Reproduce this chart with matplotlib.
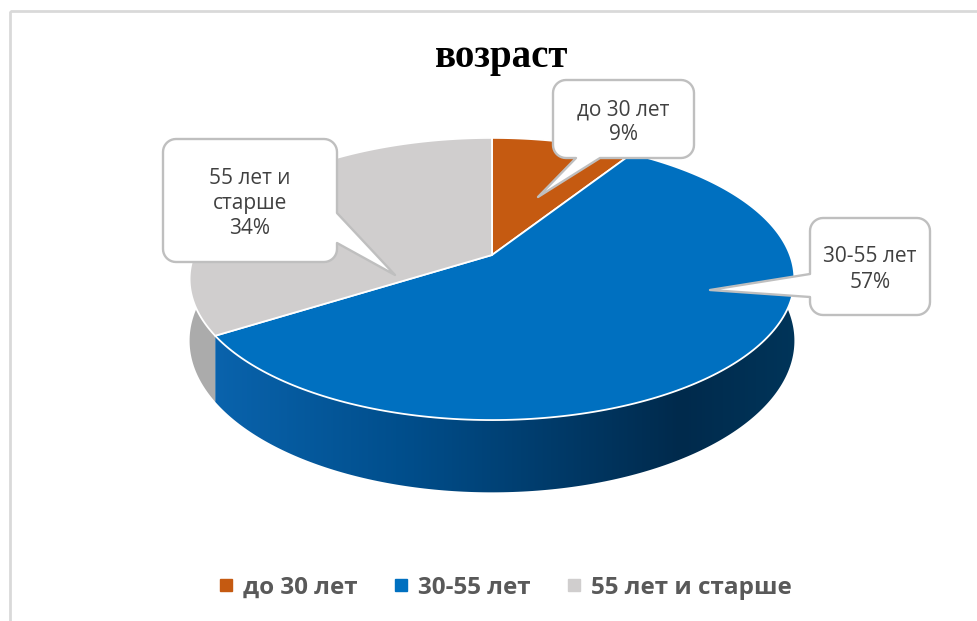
import textwrap
import numpy as np
import matplotlib
matplotlib.use("Agg")
import matplotlib.pyplot as plt
from matplotlib.patches import Polygon, Rectangle
from matplotlib.lines import Line2D
from matplotlib.colors import LinearSegmentedColormap

# данные
categories = ["до 30 лет", "30-55 лет", "55 лет и старше"]
values = [9, 57, 34]
colors = ["#C55A11", "#0070C0", "#D0CECE"]
title = "возраст"

# геометрия псевдо-3D диаграммы (в пикселях)
CX, CY = 492, 255
RX, RY = 298, 137
K = 0.17      # перспектива
H = 60        # толщина

def proj(theta, h=0.0):
    w = 1 + K * np.sin(theta)
    return CX + RX * np.cos(theta) / w, CY + (-RY * np.sin(theta) + h) / w

def arc(t0, t1, h=0.0, n=200):
    t = np.linspace(t0, t1, n)
    x, y = proj(t, h)
    return np.column_stack([x, y])

def callout(ax, box, r, side, b1, b2, tip):
    x0, y0, x1, y1 = box
    pts = [(x0 + r, y0), (x1 - r, y0)]
    def corner(cx, cy, a0, a1):
        for a in np.radians(np.linspace(a0, a1, 10)):
            pts.append((cx + r * np.cos(a), cy + r * np.sin(a)))
    corner(x1 - r, y0 + r, -90, 0)
    if side == "right":
        pts.extend([(x1, b1), tip, (x1, b2)])
    corner(x1 - r, y1 - r, 0, 90)
    if side == "bottom":
        pts.extend([(b2, y1), tip, (b1, y1)])
    corner(x0 + r, y1 - r, 90, 180)
    if side == "left":
        pts.extend([(x0, b2), tip, (x0, b1)])
    corner(x0 + r, y0 + r, 180, 270)
    ax.add_patch(Polygon(pts, closed=True, fc="white", ec="#bfbfbf",
                         lw=1.7, joinstyle="round", zorder=5))

fig = plt.figure(figsize=(9.78, 6.21), dpi=100)
ax = fig.add_axes([0, 0, 1, 1])
ax.set_xlim(0, 978)
ax.set_ylim(621, 0)
ax.axis("off")

ax.add_patch(Rectangle((10, 11), 1000, 700, fill=False, ec="#d9d9d9", lw=2))

# углы секторов: от 12 часов по часовой стрелке
frac = np.array(values) / sum(values)
bounds = np.pi / 2 - 2 * np.pi * np.concatenate([[0], np.cumsum(frac)])

# боковая стенка (видимая передняя часть)
vis0, vis1 = np.radians(-190), np.radians(10)
side_cmap = LinearSegmentedColormap.from_list(
    "side", [(0.0, "#0a64ae"), (0.35, "#004d8a"), (0.8, "#002a4c"), (1.0, "#00355a")])
for i in range(len(values)):
    hi, lo = bounds[i], bounds[i + 1]
    a, b = max(lo, vis0), min(hi, vis1)
    if a >= b:
        continue
    top = arc(a, b)
    bot = arc(a, b, H)[::-1]
    poly = Polygon(np.vstack([top, bot]), closed=True, fc="none", ec="none")
    ax.add_patch(poly)
    if colors[i] == "#0070C0":
        grad = np.linspace(0, 1, 256)[None, :]
        im = ax.imshow(grad, cmap=side_cmap, aspect="auto",
                       extent=[205, 800, 500, 250], zorder=1)
        im.set_clip_path(poly)
    else:
        poly.set_facecolor("#ababab")
        poly.set_zorder(1)

# верхняя грань
for i in range(len(values)):
    pts = np.vstack([[CX, CY], arc(bounds[i], bounds[i + 1])])
    ax.add_patch(Polygon(pts, closed=True, fc=colors[i], ec="white",
                         lw=1.3, zorder=3))

# выноски
labels = [textwrap.fill(c, 9) + f"\n{v}%" for c, v in zip(categories, values)]
boxes = [
    dict(box=(553, 80, 694, 158), side="bottom", b1=576, b2=600, tip=(538, 197)),
    dict(box=(810, 218, 930, 315), side="left", b1=274, b2=297, tip=(710, 290)),
    dict(box=(163, 139, 337, 262), side="right", b1=213, b2=243, tip=(395, 275)),
]
for lab, bx in zip(labels, boxes):
    callout(ax, bx["box"], 13, bx["side"], bx["b1"], bx["b2"], bx["tip"])
    x0, y0, x1, y1 = bx["box"]
    ax.text((x0 + x1) / 2, (y0 + y1) / 2 + 3, lab, ha="center", va="center",
            fontsize=15, color="#404040", family=["Open Sans", "DejaVu Sans"],
            linespacing=1.25, zorder=6)

ax.text(502, 58, title, ha="center", va="center", fontsize=28,
        fontweight="bold", family=["Liberation Serif", "DejaVu Serif"],
        color="black")

handles = [Line2D([], [], marker="s", ls="none", ms=8, mfc=c, mec=c) for c in colors]
leg = fig.legend(handles, categories, loc="center", ncol=3,
                 bbox_to_anchor=(504 / 978, 1 - 588 / 621), frameon=False,
                 handletextpad=0.3, columnspacing=1.4, handlelength=0.8,
                 prop=dict(family=["Open Sans", "DejaVu Sans"], weight="bold", size=17.5))
for t in leg.get_texts():
    t.set_color("#595959")

fig.savefig("out.png", dpi=100)
